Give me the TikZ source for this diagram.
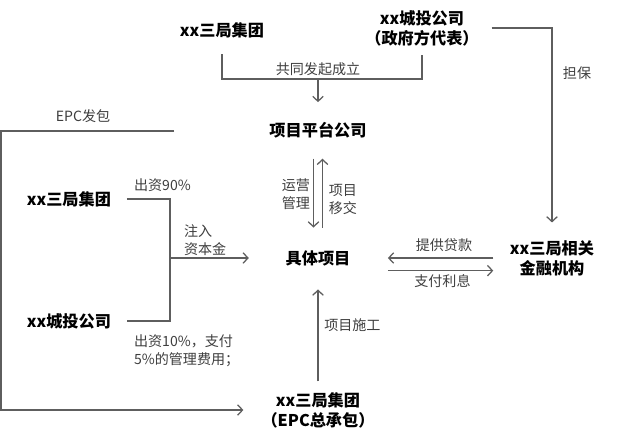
\documentclass[tikz,border=0pt]{standalone}
\usepackage{fontspec}
\setmainfont{Noto Sans CJK SC}
\usetikzlibrary{arrows.meta}
\definecolor{linegray}{HTML}{5E5E5E}
\definecolor{labeltext}{HTML}{3E3E3E}

\begin{document}
\begin{tikzpicture}[x=0.025cm,y=-0.025cm,>={Straight Barb[length=3.5pt,width=7.5pt]}]
        \useasboundingbox (0,0) rectangle (640,437);
        \tikzstyle{every node} = [inner sep=2pt, align=center, font=\bfseries\fontsize{11.5}{14.2}\selectfont];
        \node(1) at (222,30) {xx三局集团};
        \node(2) at (422,28) {xx城投公司\\（政府方代表）};
        \node(3) at (318,130) {项目平台公司};
        \node(4) at (69,199) {xx三局集团};
        \node(5) at (69,321) {xx城投公司};
        \node(6) at (318,258) {具体项目};
        \node(7) at (552,258) {xx三局相关\\金融机构};
        \node(8) at (318,410) {xx三局集团\\（EPC总承包）};
        \coordinate(j1) at (318,79);
        \coordinate(j2) at (170,258);
        \coordinate(e1) at (174,131);
        \coordinate(e2) at (1,131);
        \tikzstyle{every node} = [inner sep=2pt, text=labeltext, align=left, font=\fontsize{10}{12.5}\selectfont]
        \tikzstyle{line} = [color=linegray, line width=0.9pt]
        \draw[line,shorten <=9.7pt,shorten >=4pt] (1.south) |- (j1) -| (2.south);
        \node[above](l1) at (j1) {共同发起成立};
        \draw[line,->,shorten >=12pt] (j1) -- (j1 |- 3.north);
        \draw[line,->,shorten <=7pt,shorten >=10.5pt] (2.east) -| (7.north);
        \node(l2) at (577,73) {担保};
        \draw[line,->,shorten >=10.7pt] (e1) -- (e2) |- (8.west);
        \node(l3) at (83,116) {EPC发包};
        \path[line,->]
        ([xshift=-3.2pt]3.south) edge[shorten <=12.6pt,shorten >=14pt] node[left] {运营\\管理} ([xshift=-3.2pt]6.north);
        \path[line,->]
        ([xshift=3.2pt]6.north) edge[shorten <=14pt,shorten >=12.6pt] node[right,pos=0.45,xshift=2pt] {项目\\移交} ([xshift=3.2pt]3.south);
        \draw[line,shorten <=9pt,shorten >=9pt] (4.east) -| (j2) |- (5.east);
        \draw[line,->,shorten >=24pt] (j2) -- (6.west);
        \node[anchor=west](l4) at (131,185) {出资90\%};
        \node[anchor=west](l5) at (181,240) {注入\\资本金};
        \node[anchor=west](l6) at (131,351) {出资10\%，支付\\5\%的管理费用；};
        \path[line,->]
        (7.west) edge[shorten <=9.7pt,shorten >=24.5pt] node[above,pos=0.41,yshift=2pt] {提供贷款} (6.east);
        \path[line,->]
        ([yshift=-9pt]6.east) edge[shorten <=24.5pt,shorten >=9.7pt] node[below,pos=0.58] {支付利息} ([yshift=-9pt]7.west);
        \path[line,->]
        (8.north) edge[shorten <=5.5pt,shorten >=14.7pt] node[right,pos=0.53,xshift=2pt] {项目施工} (6.south);
        \end{tikzpicture}
\end{document}
